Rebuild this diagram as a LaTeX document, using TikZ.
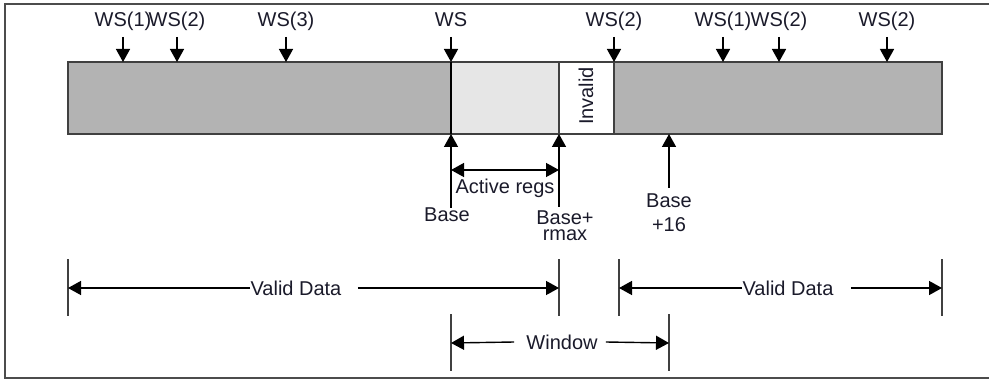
\documentclass[tikz,border=0pt]{standalone}
\usepackage{fontspec}
\setmainfont{Liberation Sans}
\usetikzlibrary{arrows.meta}
\definecolor{barDark}{HTML}{B3B3B3}
\definecolor{barLight}{HTML}{E6E6E6}
\definecolor{edge}{HTML}{404040}
\definecolor{ink}{HTML}{1A1A2A}
\begin{document}
\begin{tikzpicture}[x=0.5pt,y=-0.5pt,
  txt/.style={font=\fontsize{10}{12}\selectfont, text=ink, inner sep=0pt},
  ln/.style={line width=0.7pt, draw=black},
  tick/.style={line width=0.75pt, draw=edge},
  tip/.style={-{Triangle[length=6.5pt,width=7pt]}},
  tips/.style={{Triangle[length=6.5pt,width=7pt]}-{Triangle[length=6.5pt,width=7pt]}}]
\useasboundingbox (0,0) rectangle (989,379);
% frame
\draw[line width=1pt, draw=black!70] (995,4.5) -- (4.5,4.5) -- (4.5,377.5) -- (995,377.5);
% bar
\fill[barDark] (68,62) rectangle (451,134);
\fill[barLight] (451,62) rectangle (559,134);
\fill[white] (559,62) rectangle (614,134);
\fill[barDark] (614,62) rectangle (942,134);
\coordinate (barTL) at (68,62);
\coordinate (barBR) at (942,134);
\draw[line width=0.9pt, draw=edge] (barTL) rectangle (barBR);
\draw[line width=0.9pt, draw=edge] (559,62) -- (559,134);
\draw[line width=0.9pt, draw=edge] (614,62) -- (614,134);
\draw[line width=0.8pt, draw=black] (451,62) -- (451,134);
\node[txt, rotate=90] (inv) at (586,96) {Invalid};
% top labels and arrows
\foreach \x/\t/\n in {123/WS(1)/a, 177/WS(2)/b, 286/WS(3)/c, 451/WS/d, 614/WS(2)/e, 723/WS(1)/f, 779/WS(2)/g, 887/WS(2)/h} {
  \node[txt, anchor=base] (top\n) at (\x,27) {\t};
  \coordinate (src\n) at (\x,37);
  \draw[ln,tip] (src\n) -- (src\n |- barTL);
}
% bottom markers
\coordinate (baseEnd) at (451,208);
\draw[ln,tip] (baseEnd) -- (baseEnd |- barBR);
\node[txt, anchor=base] (baseLbl) at (447,221) {Base};
\coordinate (rmaxEnd) at (559,207);
\draw[ln,tip] (rmaxEnd) -- (rmaxEnd |- barBR);
\node[txt, font=\fontsize{10}{7.8}\selectfont, align=center, anchor=north] (rmaxLbl) at (565,210.5) {Base+\\rmax};
\coordinate (b16End) at (669,188);
\draw[ln,tip] (b16End) -- (b16End |- barBR);
\node[txt, anchor=base] (b16A) at (669,207) {Base};
\node[txt, anchor=base] (b16B) at (669,231) {+16};
% active regs
\coordinate (arL) at (451,170);
\coordinate (arR) at (559,170);
\draw[ln,tips] (arL) -- (arR);
\node[txt, anchor=base] (arLbl) at (505,193) {Active regs};
% valid data left
\coordinate (v1L) at (68,288);
\coordinate (v1R) at (559,288);
\draw[tick] (68,259) -- (68,316);
\draw[tick] (559,259) -- (559,316);
\node[txt] (vd1) at (296,288) {Valid Data};
\draw[ln,tip] (vd1.west) -- (v1L);
\draw[ln,tip] ([xshift=8pt]vd1.east) -- (v1R);
% valid data right
\coordinate (v2L) at (619,288);
\coordinate (v2R) at (942,288);
\draw[tick] (619,259) -- (619,316);
\draw[tick] (942,259) -- (942,316);
\node[txt] (vd2) at (788,288) {Valid Data};
\draw[ln,tip] (vd2.west) -- (v2L);
\draw[ln,tip] ([xshift=8.5pt]vd2.east) -- (v2R);
% window
\coordinate (wL) at (451,343);
\coordinate (wR) at (669,343);
\draw[tick] (451,314) -- (451,371);
\draw[tick] (669,314) -- (669,371);
\node[txt] (win) at (562,342) {Window};
\draw[ln,tip] ([xshift=-6pt]win.west) -- (wL);
\draw[ln,tip] ([xshift=4pt]win.east) -- (wR);
\end{tikzpicture}
\end{document}
